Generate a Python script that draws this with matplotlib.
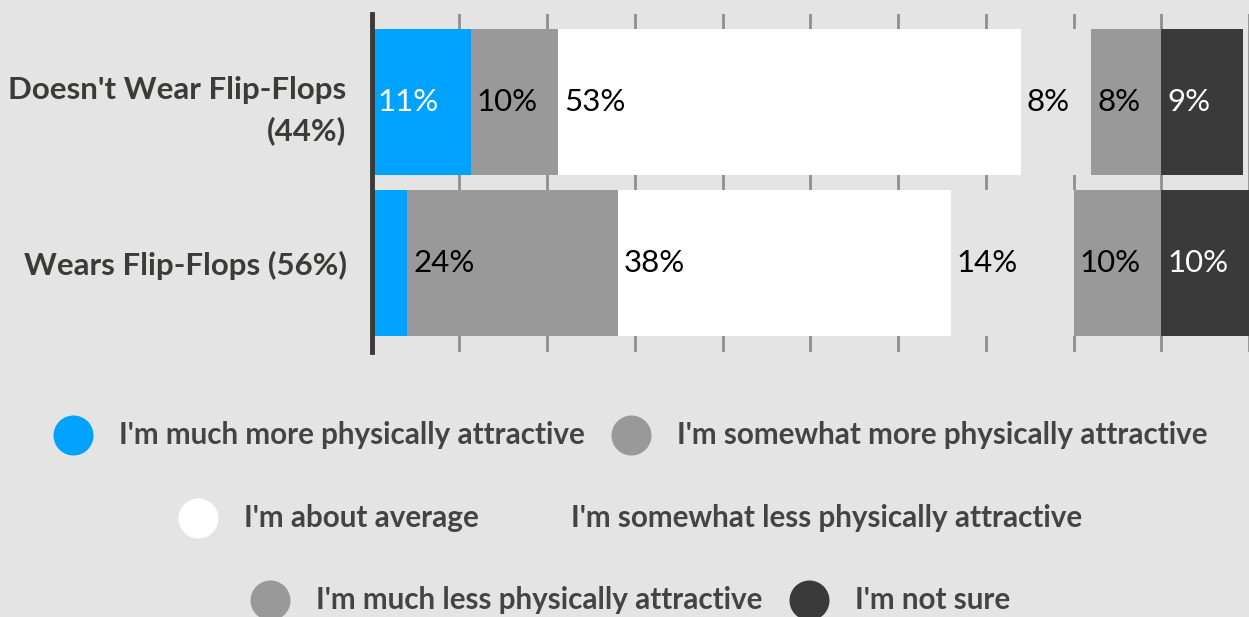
import numpy as np
import matplotlib.pyplot as plt
from matplotlib.lines import Line2D

# data
groups = ["Doesn't Wear Flip-Flops\n(44%)", "Wears Flip-Flops (56%)"]
series = ["I'm much more physically attractive",
          "I'm somewhat more physically attractive",
          "I'm about average",
          "I'm somewhat less physically attractive",
          "I'm much less physically attractive",
          "I'm not sure"]
much_more = [11.3, 4.1]
somewhat_more = [10.0, 24.0]
average = [52.7, 37.9]
somewhat_less = [8.0, 14.0]
much_less = [8.0, 10.0]
not_sure = [9.3, 10.0]

bg = '#e4e4e4'
colors = ['#00a2ff', '#999999', '#ffffff', bg, '#999999', '#3a3a3a']
label_colors = ['white', 'black', 'black', 'black', 'black', 'white']
legend_rows = [[0, 1], [2, 3], [4, 5]]

W, H = 1249, 617
x0 = 371.5
fig = plt.figure(figsize=(W / 100, H / 100), dpi=100, facecolor=bg)
ax = fig.add_axes([x0 / W, 1 - 352 / H, 1 - x0 / W, 338 / H])
ax.set_facecolor(bg)

values = [much_more, somewhat_more, average, somewhat_less, much_less, not_sure]
y = np.arange(len(groups))
left = np.zeros(len(groups))
for vals, c, lc in zip(values, colors, label_colors):
    bars = ax.barh(y, vals, left=left, height=0.907, color=c, zorder=2)
    for b, v in zip(bars, vals):
        if v >= 5:
            ax.annotate(f"{v:.0f}%", (b.get_x(), b.get_y() + b.get_height() / 2),
                        xytext=(6, 0), textcoords='offset pixels',
                        ha='left', va='center', color=lc,
                        fontsize=22.5, family='Lato', zorder=3)
    left += np.array(vals)

ax.set_xlim(0, (W - x0) / 8.8)
ax.set_ylim(1.553, -0.547)
ax.set_xticks(np.arange(0, 101, 10))
ax.set_xticklabels([])
ax.xaxis.grid(True, color='#8f8f8f', linewidth=2)
ax.set_axisbelow(True)
ax.set_yticks(y)
ax.set_yticklabels(groups, fontsize=22.5, fontweight='bold', family='Lato',
                   color='#3c3c37', linespacing=1.5)
ax.tick_params(axis='both', length=0)
ax.tick_params(axis='y', pad=18)
for s in ['top', 'right', 'bottom']:
    ax.spines[s].set_visible(False)
ax.spines['left'].set_color('#3b3a35')
ax.spines['left'].set_linewidth(3.5)

# legend, each row centred on its own
fig.canvas.draw()
renderer = fig.canvas.get_renderer()
D, G1, G2, cx = 40, 26, 26, 630
for row, ly in zip(legend_rows, [435, 518, 600]):
    texts = [fig.text(0, 1 - ly / H, series[i], fontsize=21.3, fontweight='bold',
                      family='Lato', color='#444444', va='center')
             for i in row]
    widths = [t.get_window_extent(renderer).width for t in texts]
    total = sum(D + G1 + w for w in widths) + G2 * (len(row) - 1)
    x = cx - total / 2
    for i, t, w in zip(row, texts, widths):
        fig.add_artist(Line2D([(x + D / 2) / W], [1 - ly / H], marker='o',
                              markersize=D * 0.72, markeredgewidth=0,
                              color=colors[i], transform=fig.transFigure))
        t.set_x((x + D + G1) / W)
        x += D + G1 + w + G2

fig.savefig('out.png', dpi=100, facecolor=bg)
